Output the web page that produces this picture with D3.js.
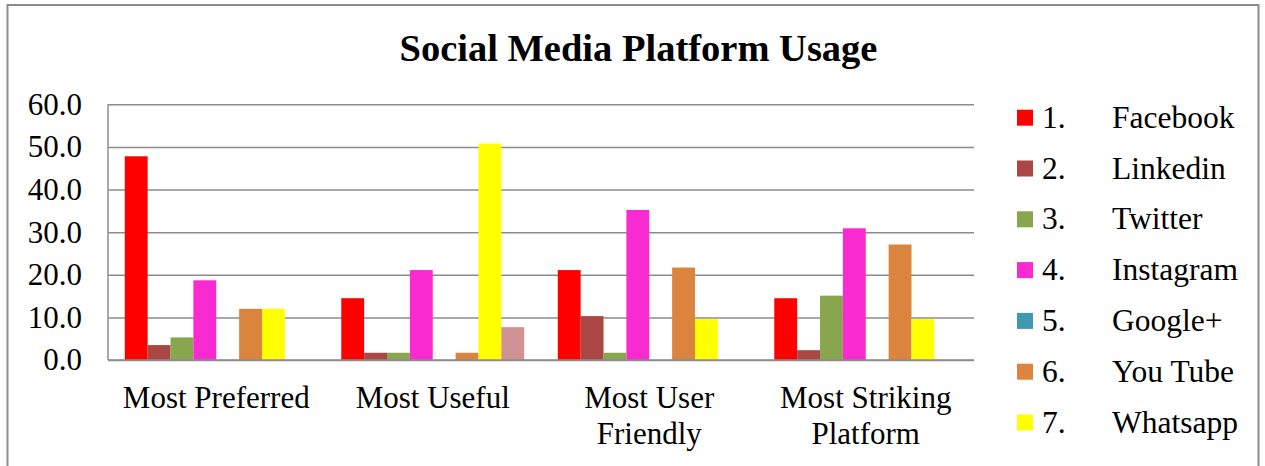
<!DOCTYPE html>
<html>
<head>
<meta charset="utf-8">
<script src="https://cdn.jsdelivr.net/npm/d3@7"></script>
<style>
	html, body { margin: 0; padding: 0; background: #fff; }
	svg { display: block; font-family: 'Liberation Serif', 'Times New Roman', serif; }
	.axis-y .domain { display: none; }
	.axis-y .tick line { stroke: #8c8c8c; stroke-width: 1.5; }
	.axis-y .tick text { font-family: 'Liberation Serif', 'Times New Roman', serif; font-size: 31px; fill: #000; }
</style>
</head>
<body>
<div id="chart"></div>
<script>

const categories = [['Most Preferred'], ['Most Useful'], ['Most User', 'Friendly'], ['Most Striking', 'Platform']];
const seriesNames = ['1.\tFacebook', '2.\tLinkedin', '3.\tTwitter', '4.\tInstagram', '5.\tGoogle+', '6.\tYou Tube', '7.\tWhatsapp', '8.\tOthers'];
const seriesColors = ['#ff0000', '#aa4643', '#89a54e', '#f92acf', '#4198af', '#db843d', '#ffff00', '#d09292'];

const facebook  = [47.8, 14.5, 21.1, 14.5];
const linkedin  = [3.5, 1.7, 10.3, 2.3];
const twitter   = [5.3, 1.7, 1.7, 15.1];
const instagram = [18.7, 21.1, 35.2, 30.9];
const googleplus = [0, 0, 0, 0];
const youtube   = [12.0, 1.7, 21.7, 27.1];
const whatsapp  = [12.0, 50.8, 9.6, 9.6];
const others    = [0, 7.7, 0, 0];

const yTicks = [0, 10, 20, 30, 40, 50, 60];

const seriesValues = [facebook, linkedin, twitter, instagram, googleplus, youtube, whatsapp, others];

// the legend in the picture is cut after the seventh entry
const legendCount = 7;

////////////////////////////////////////////////////////////////////

const W = 1265, H = 466;
const plotL = 108, plotR = 974, plotT = 104.3, plotB = 360;

const svg = d3.select('#chart')
	.append('svg')
	.attr('width', W)
	.attr('height', H);

// outer frame (bottom edge runs off the picture)
svg.append('rect')
	.attr('x', 7.5)
	.attr('y', 5)
	.attr('width', 1251)
	.attr('height', 480)
	.attr('fill', 'none')
	.attr('stroke', '#8c8c8c')
	.attr('stroke-width', 2);

svg.append('text')
	.attr('x', 638.5)
	.attr('y', 61)
	.attr('text-anchor', 'middle')
	.style('font-size', '38.5px')
	.style('font-weight', 'bold')
	.text('Social Media Platform Usage');

////////////////////////////////////////////////////////////////////

const scaleX = d3.scaleBand()
	.domain(d3.range(categories.length))
	.range([plotL, plotR])
	.paddingInner(0.155)
	.paddingOuter(0.0775);

const scaleSeries = d3.scaleBand()
	.domain(d3.range(seriesNames.length))
	.range([0, scaleX.bandwidth()]);

const scaleY = d3.scaleLinear().domain([0, 60]).range([plotB, plotT]);

const plot = svg.append('g').attr('class', 'plot');

const axisY = d3.axisLeft()
	.scale(scaleY)
	.tickValues(yTicks)
	.tickFormat(d3.format('.1f'))
	.tickSize(-(plotR - plotL))
	.tickPadding(26);

plot.append('g')
	.attr('class', 'axis axis-y')
	.attr('transform', `translate(${plotL},0)`)
	.call(axisY);

// left axis line
plot.append('line')
	.attr('x1', plotL).attr('x2', plotL)
	.attr('y1', plotT).attr('y2', plotB)
	.attr('stroke', '#8c8c8c')
	.attr('stroke-width', 1.5);

////////////////////////////////////////////////////////////////////

const groups = plot.selectAll('.group')
	.data(categories.map((c, i) => i))
	.enter()
	.append('g')
	.attr('class', 'group')
	.attr('transform', d => `translate(${scaleX(d)},0)`);

groups.selectAll('.bar')
	.data(ci => seriesValues.map((vals, si) => ({si: si, v: vals[ci]})))
	.enter()
	.append('rect')
	.attr('class', 'bar')
	.attr('x', d => scaleSeries(d.si))
	.attr('width', scaleSeries.bandwidth())
	.attr('y', d => scaleY(d.v))
	.attr('height', d => plotB - scaleY(d.v))
	.attr('fill', d => seriesColors[d.si]);

// baseline drawn over the bars
plot.append('line')
	.attr('x1', plotL).attr('x2', plotR)
	.attr('y1', plotB).attr('y2', plotB)
	.attr('stroke', '#8c8c8c')
	.attr('stroke-width', 1.5);

////////////////////////////////////////////////////////////////////

const labels = plot.selectAll('.cat-label')
	.data(categories)
	.enter()
	.append('text')
	.attr('class', 'cat-label')
	.attr('text-anchor', 'middle')
	.style('font-size', '31px');

labels.selectAll('tspan')
	.data((d, i) => d.map(line => ({line: line, i: i})))
	.enter()
	.append('tspan')
	.attr('x', d => scaleX(d.i) + scaleX.bandwidth() / 2)
	.attr('y', (d, j) => 407.5 + j * 36)
	.text(d => d.line);

////////////////////////////////////////////////////////////////////

const legend = svg.selectAll('.legend')
	.data(seriesNames.slice(0, legendCount))
	.enter()
	.append('g')
	.attr('class', 'legend')
	.attr('transform', (d, i) => `translate(1017,${117.7 + i * 50.8})`);

legend.append('rect')
	.attr('x', 0)
	.attr('y', -8)
	.attr('width', 16)
	.attr('height', 16)
	.attr('fill', (d, i) => seriesColors[i]);

legend.append('text')
	.attr('x', 25)
	.attr('y', 10)
	.style('font-size', '31.5px')
	.text(d => d.split('\t')[0]);

legend.append('text')
	.attr('x', 95)
	.attr('y', 10)
	.style('font-size', '31.5px')
	.text(d => d.split('\t')[1]);

</script>
</body>
</html>
